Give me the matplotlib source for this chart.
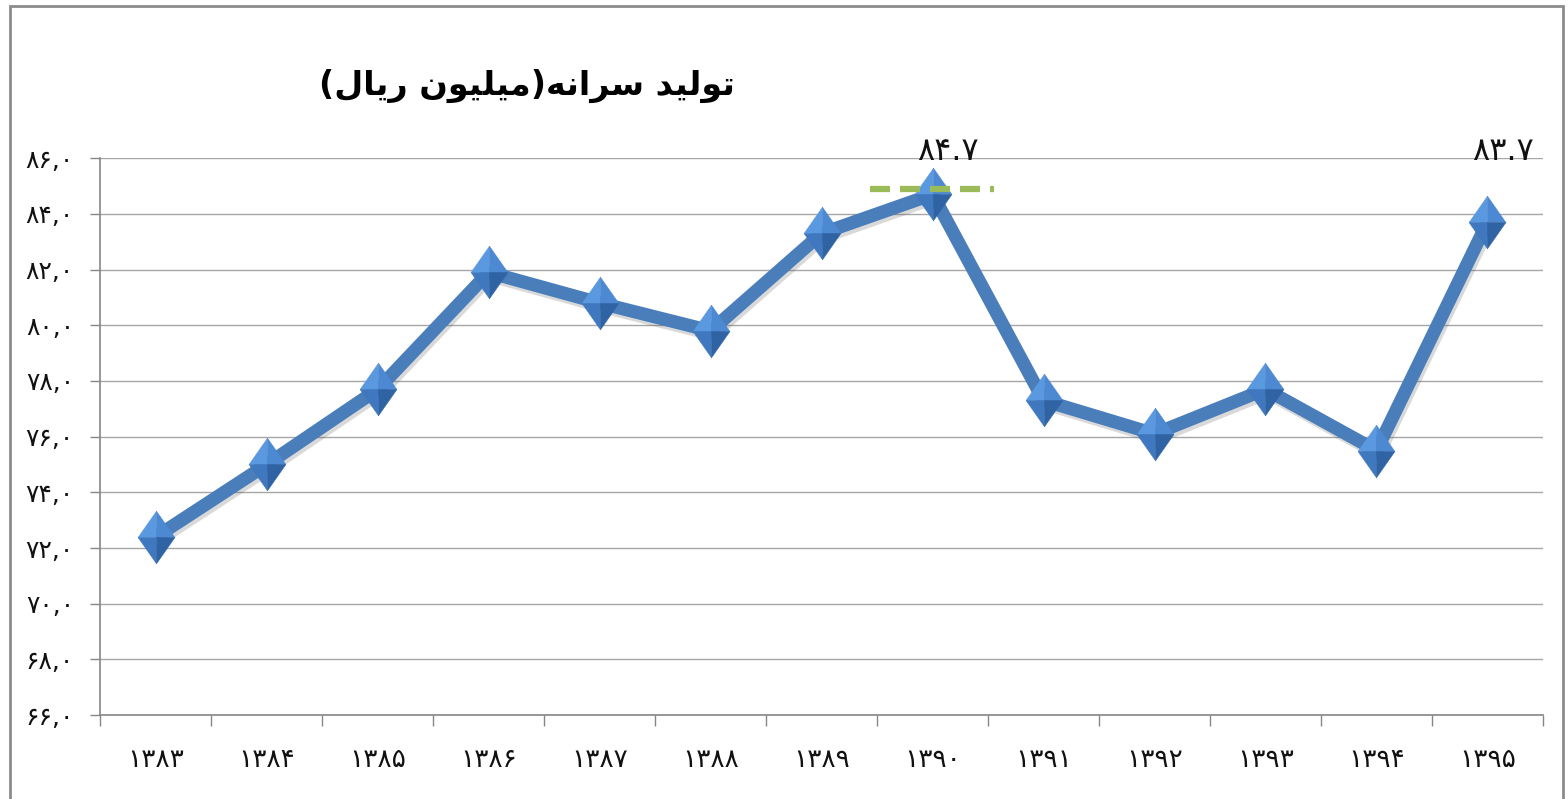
"""Per-capita production line chart (Persian labels, Excel-style)."""
import matplotlib
matplotlib.use("Agg")
import matplotlib.pyplot as plt
import matplotlib.patheffects as pe
from matplotlib.patches import Rectangle
from matplotlib.path import Path

# ---- data -------------------------------------------------------------
years = [1383, 1384, 1385, 1386, 1387, 1388, 1389, 1390, 1391, 1392, 1393, 1394, 1395]
values = [72.4, 75.0, 77.7, 81.9, 80.8, 79.8, 83.3, 84.7, 77.3, 76.1, 77.7, 75.5, 83.7]
labelled_years = [1390, 1395]
peak_ref = 84.9                       # green dashed reference at the peak year
y_ticks = [66, 68, 70, 72, 74, 76, 78, 80, 82, 84, 86]

# title "تولید سرانه(میلیون ریال)" in shaped presentation forms, visual order
TITLE = ("(" + "\uFEDD\uFE8E\uFEF3\uFEAD" + " " + "\uFEE5\uFEEE\uFEF4\uFEE0\uFEF4\uFEE3" + ")"
         + "\uFEEA\uFEE7\uFE8D\uFEAE\uFEB3" + " " + "\uFEAA\uFEF4\uFEDF\uFEEE\uFE97")

C_LINE = "#4A7EBB"
C_GRID = "#A6A6A6"
C_AXIS = "#868686"
C_GREEN = "#9BBB59"
FA = str.maketrans("0123456789", "۰۱۲۳۴۵۶۷۸۹")


def fa(s):
    return str(s).translate(FA)


plt.rcParams["font.family"] = ["DejaVu Sans"]

fig = plt.figure(figsize=(15.68, 7.99), dpi=100)
ax = fig.add_axes([0.064, 0.105, 0.92, 0.697])

x = list(range(len(years)))

# thick line with a faint drop shadow
ax.plot(x, values, color=C_LINE, lw=9.5, solid_capstyle="butt", zorder=3,
        path_effects=[pe.SimpleLineShadow(offset=(1.5, -2.5), alpha=0.22, shadow_color="#555555"),
                      pe.Normal()])

# bevelled diamond markers: four facets
w = 0.7
facets = [
    ([(0, 1), (-w, 0), (0, 0), (0, 1)], "#5A98E0"),   # top-left
    ([(0, 1), (0, 0), (w, 0), (0, 1)], "#4C89D2"),    # top-right
    ([(-w, 0), (0, -1), (0, 0), (-w, 0)], "#3F78BE"),  # bottom-left
    ([(0, 0), (0, -1), (w, 0), (0, 0)], "#2F63A3"),   # bottom-right
]
for verts, col in facets:
    ax.plot(x, values, ls="none", marker=Path(verts), ms=38, mfc=col, mec=col,
            mew=0.3, zorder=5)

# green dashed reference over the peak year
pk = years.index(1390)
ax.hlines(peak_ref, pk - 0.56, pk + 0.55, colors=C_GREEN, lw=4.5,
          linestyles=(0, (3.2, 1.6)), zorder=6)

# data labels
for yr in labelled_years:
    i = years.index(yr)
    ax.annotate(fa(f"{values[i]:.1f}"), (i, 86.0), xytext=(11, 5), textcoords="offset points",
                ha="center", va="center", fontsize=23, color="#111111",
                annotation_clip=False, zorder=7)

# axes styling
ax.set_xlim(-0.5, len(years) - 0.5)
ax.set_ylim(66, 86)
ax.set_yticks(y_ticks)
ax.set_yticklabels([fa(f"{v},0") for v in y_ticks], fontsize=18, color="#111111")
ax.set_xticks(x)
ax.set_xticklabels([fa(y) for y in years], fontsize=19, color="#111111")
ax.set_xticks([i - 0.5 for i in range(len(years) + 1)], minor=True)
ax.tick_params(axis="x", which="major", length=0, pad=23)
ax.tick_params(axis="x", which="minor", length=8, width=1, color=C_AXIS, direction="out")
ax.tick_params(axis="y", length=7, width=1, color=C_AXIS, pad=12)
ax.grid(axis="y", color=C_GRID, lw=1)
ax.set_axisbelow(True)
for s in ("top", "right"):
    ax.spines[s].set_visible(False)
for s in ("left", "bottom"):
    ax.spines[s].set_color(C_AXIS)
    ax.spines[s].set_linewidth(1.2)

fig.text(0.336, 0.893, TITLE, ha="center", va="center", fontsize=24,
         fontweight="bold", color="#000000")

# chart-area frame
fig.add_artist(Rectangle((0.0065, -0.02), 0.9905, 1.013, transform=fig.transFigure,
                         fill=False, ec="#8C8C8C", lw=2))

fig.savefig("out.png", dpi=100)
